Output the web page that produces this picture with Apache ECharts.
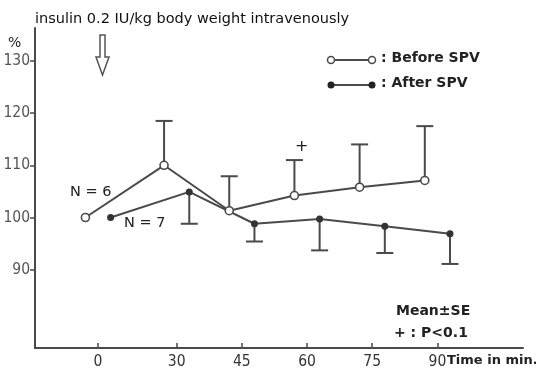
<!DOCTYPE html>
<html lang="en">
<head>
<meta charset="UTF-8" />
<title>Insulin response before / after SPV</title>
<style>
  html, body { margin: 0; padding: 0; background: #fff; }
  #main { width: 536px; height: 371px; }
</style>
</head>
<body>
<div id="main"></div>
<script src="https://cdn.jsdelivr.net/npm/echarts@6/dist/echarts.min.js"></script>
<script>
  // time after injection (min)
  const times = [0, 30, 45, 60, 75, 90]
  // % of basal, mean and SE limit
  const beforeMean = [100, 110, 101.3, 104.2, 105.8, 107.1]
  const beforeUpper = [null, 118.5, 107.9, 111.0, 114.0, 117.5]
  const afterMean = [100, 104.9, 98.8, 99.7, 98.3, 96.9]
  const afterLower = [null, 98.8, 95.4, 93.7, 93.2, 91.1]
  const yTicks = [90, 100, 110, 120, 130]

  const shift = 2.9 // the two groups are drawn a bit apart on each time point
  const ink = '#4a4a4a'
  const font = 'DejaVu Sans'
  const numFont = 'DejaVu Sans Condensed, Liberation Sans, sans-serif'

  let myChart = echarts.init(document.getElementById('main'))

  function errorBars(name, mean, lim, dx) {
    return {
      name: name,
      type: 'custom',
      z: 1,
      data: times.map((t, i) => [t + dx, mean[i], lim[i]]).filter(d => d[2] != null),
      renderItem: function (params, api) {
        let p0 = api.coord([api.value(0), api.value(1)])
        let p1 = api.coord([api.value(0), api.value(2)])
        let half = 8.5
        return {
          type: 'group',
          children: [
            { type: 'line', shape: { x1: p0[0], y1: p0[1], x2: p1[0], y2: p1[1] }, style: { stroke: ink, lineWidth: 2 } },
            { type: 'line', shape: { x1: p1[0] - half, y1: p1[1], x2: p1[0] + half, y2: p1[1] }, style: { stroke: ink, lineWidth: 2 } }
          ]
        }
      }
    }
  }

  function txt(x, y, s, size, bold) {
    return {
      type: 'text', left: x, top: y,
      style: { text: s, fill: '#222', font: (bold ? 'bold ' : '') + size + 'px ' + font }
    }
  }

  let option = {
    animation: false,
    title: {
      text: 'insulin 0.2 IU/kg body weight intravenously',
      left: 30, top: 7,
      textStyle: { fontFamily: font, fontSize: 14.5, fontWeight: 'normal', color: '#111' }
    },
    grid: { left: 35, right: 13, top: 28, bottom: 23 },
    xAxis: [
      {
        type: 'value',
        min: -14.5,
        max: 109.7,
        breaks: [{ start: 6, end: 24, gap: 6.1 }],
        breakArea: { show: false },
        splitLine: { show: false },
        axisLine: { show: false },
        axisTick: { inside: true, length: 5, customValues: times, lineStyle: { color: ink, width: 1.5 } },
        axisLabel: { customValues: times, margin: 6, fontFamily: numFont, fontSize: 15.5, color: '#333' }
      },
      {
        // plain axis, only for the unbroken base line
        type: 'value',
        position: 'bottom',
        min: 0,
        max: 1,
        splitLine: { show: false },
        axisLine: { onZero: false, lineStyle: { color: ink, width: 2 } },
        axisTick: { show: false },
        axisLabel: { show: false }
      }
    ],
    yAxis: {
      type: 'value',
      min: 75,
      max: 136.3,
      splitLine: { show: false },
      axisLine: { show: true, onZero: false, lineStyle: { color: ink, width: 2 } },
      axisTick: { show: true, length: 5, customValues: yTicks, lineStyle: { color: ink, width: 1.5 } },
      axisLabel: { customValues: yTicks, margin: 5, fontFamily: numFont, fontSize: 15.5, color: '#555' }
    },
    graphic: [
      // injection arrow
      {
        type: 'polygon',
        shape: { points: [[100, 35], [105, 35], [105, 57], [109, 57], [102.5, 75], [96, 57], [100, 57]] },
        style: { fill: '#fff', stroke: '#555', lineWidth: 1.5 }
      },
      txt(8, 36, '%', 14),
      // legend
      { type: 'line', shape: { x1: 331, y1: 60, x2: 372, y2: 60 }, style: { stroke: ink, lineWidth: 2 } },
      { type: 'circle', shape: { cx: 331, cy: 60, r: 3.5 }, style: { fill: '#fff', stroke: ink, lineWidth: 1.5 } },
      { type: 'circle', shape: { cx: 372, cy: 60, r: 3.5 }, style: { fill: '#fff', stroke: ink, lineWidth: 1.5 } },
      txt(381, 51, ': Before SPV', 14, true),
      { type: 'line', shape: { x1: 331, y1: 85, x2: 372, y2: 85 }, style: { stroke: ink, lineWidth: 2 } },
      { type: 'circle', shape: { cx: 331, cy: 85, r: 3.5 }, style: { fill: '#222' } },
      { type: 'circle', shape: { cx: 372, cy: 85, r: 3.5 }, style: { fill: '#222' } },
      txt(381, 76, ': After SPV', 14, true),
      // notes
      txt(70, 185, 'N = 6', 14.5),
      txt(124, 216, 'N = 7', 14.5),
      txt(295, 139, '+', 16),
      txt(396, 304, 'Mean±SE', 14, true),
      txt(394, 326, '+ : P<0.1', 14, true),
      txt(447, 354, 'Time in min.', 13, true)
    ],
    series: [
      errorBars('Before SE', beforeMean, beforeUpper, -shift),
      errorBars('After SE', afterMean, afterLower, shift),
      {
        name: 'Before SPV',
        type: 'line',
        z: 3,
        data: times.map((t, i) => [t - shift, beforeMean[i]]),
        symbol: 'circle',
        symbolSize: 8,
        lineStyle: { color: ink, width: 2 },
        itemStyle: { color: '#fff', borderColor: ink, borderWidth: 1.6 }
      },
      {
        name: 'After SPV',
        type: 'line',
        z: 3,
        data: times.map((t, i) => [t + shift, afterMean[i]]),
        symbol: 'circle',
        symbolSize: 7,
        lineStyle: { color: ink, width: 2 },
        itemStyle: { color: '#333' }
      }
    ]
  }

  myChart.setOption(option)
</script>
</body>
</html>
